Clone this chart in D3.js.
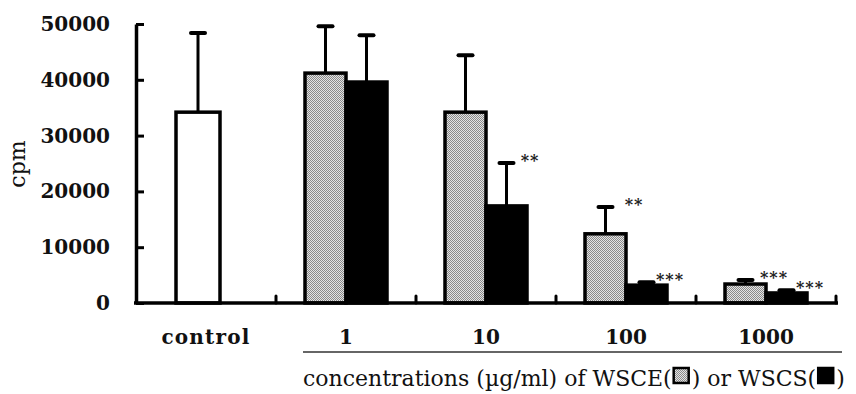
<!DOCTYPE html>
<html>
<head>
<meta charset="utf-8">
<script src="https://cdn.jsdelivr.net/npm/d3@7"></script>
<style>
  body { margin: 0; background: #fff; }
  svg text { font-family: "DejaVu Serif", "Liberation Serif", serif; }
</style>
</head>
<body>
<svg id="chart" width="856" height="394"></svg>
<script>
// values (cpm)
var categories = ["control", "1", "10", "100", "1000"];
var controlMean = [34200];
var controlErr = [48400];
var wsceMean = [null, 41200, 34200, 12400, 3400];
var wsceErr = [null, 49600, 44400, 17200, 4100];
var wscsMean = [null, 39600, 17400, 3200, 1800];
var wscsErr = [null, 48000, 25100, 3700, 2300];
var wsceSig = ["", "", "", "**", "***"];
var wscsSig = ["", "", "**", "***", "***"];
var yTicks = [0, 10000, 20000, 30000, 40000, 50000];

var svg = d3.select("#chart");

// stippled grey for WSCE bars
var defs = svg.append("defs");
var pat = defs.append("pattern")
  .attr("id", "dots")
  .attr("width", 2).attr("height", 2)
  .attr("patternUnits", "userSpaceOnUse");
pat.append("rect").attr("width", 2).attr("height", 2).attr("fill", "#e4e4e4");
pat.append("rect").attr("width", 1).attr("height", 1).attr("fill", "#8a8a8a");
pat.append("rect").attr("x", 1).attr("y", 1).attr("width", 1).attr("height", 1).attr("fill", "#8a8a8a");

var x = d3.scaleBand().domain(categories).range([136, 836]);
var y = d3.scaleLinear().domain([0, 50000]).range([303, 24]);
var barW = 41;

// y axis
var yAxis = d3.axisLeft(y)
  .tickValues(yTicks)
  .tickSizeInner(-8)
  .tickSizeOuter(0)
  .tickPadding(26)
  .tickFormat(d3.format("d"));

var gy = svg.append("g").attr("transform", "translate(136,0)").call(yAxis);
gy.select(".domain").attr("stroke-width", 3.5);
gy.selectAll(".tick line").attr("stroke-width", 3);
gy.selectAll(".tick text")
  .attr("font-size", 20)
  .attr("font-weight", "bold")
  .attr("font-family", "DejaVu Serif, serif")
  .attr("fill", "#111");

svg.append("text")
  .attr("transform", "translate(25,164) rotate(-90)")
  .attr("text-anchor", "middle")
  .attr("font-size", 22)
  .attr("fill", "#111")
  .text("cpm");

// bars
function drawBar(x0, w, mean, err, fill) {
  svg.append("line")
    .attr("x1", x0 + w / 2).attr("x2", x0 + w / 2)
    .attr("y1", y(mean)).attr("y2", y(err))
    .attr("stroke", "#000").attr("stroke-width", 3);
  svg.append("line")
    .attr("x1", x0 + w / 2 - 7).attr("x2", x0 + w / 2 + 7)
    .attr("y1", y(err)).attr("y2", y(err))
    .attr("stroke", "#000").attr("stroke-width", 4)
    .attr("stroke-linecap", "round");
  svg.append("rect")
    .attr("x", x0).attr("y", y(mean))
    .attr("width", w).attr("height", y(0) - y(mean))
    .attr("fill", fill)
    .attr("stroke", "#000").attr("stroke-width", 3.5);
}

function sig(x0, err, label) {
  if (!label) return;
  svg.append("text")
    .attr("x", x0).attr("y", y(err) + 3)
    .attr("text-anchor", "middle")
    .attr("font-size", 16)
    .attr("font-weight", "bold")
    .attr("letter-spacing", 1)
    .attr("fill", "#222")
    .text(label);
}

var cx0 = x("control") + x.bandwidth() / 2 - 8;
drawBar(cx0 - 22, 44, controlMean[0], controlErr[0], "#fff");

categories.forEach(function (c, i) {
  if (i == 0) return;
  var mid = x(c) + x.bandwidth() / 2;
  drawBar(mid - barW, barW, wsceMean[i], wsceErr[i], "url(#dots)");
  drawBar(mid, barW, wscsMean[i], wscsErr[i], "#000");
  sig(mid + 8, wsceErr[i], wsceSig[i]);
  sig(mid + barW + 3, wscsErr[i], wscsSig[i]);
});

// x axis baseline with small ticks at category boundaries
svg.append("line")
  .attr("x1", 134).attr("x2", 838)
  .attr("y1", y(0)).attr("y2", y(0))
  .attr("stroke", "#000").attr("stroke-width", 3.5);
categories.forEach(function (c) {
  var xe = x(c) + x.bandwidth();
  svg.append("line")
    .attr("x1", xe).attr("x2", xe)
    .attr("y1", y(0)).attr("y2", y(0) - 7)
    .attr("stroke", "#000").attr("stroke-width", 3)
    .attr("stroke-linecap", "round");
});

// category labels
categories.forEach(function (c, i) {
  var mid = x(c) + x.bandwidth() / 2;
  if (i == 0) mid = cx0 + 8;
  svg.append("text")
    .attr("x", mid).attr("y", 344)
    .attr("text-anchor", "middle")
    .attr("font-size", 20)
    .attr("font-weight", "bold")
    .attr("letter-spacing", i == 0 ? 1.2 : 0)
    .attr("fill", "#111")
    .text(c);
});

svg.append("line")
  .attr("x1", 303).attr("x2", 842)
  .attr("y1", 352).attr("y2", 352)
  .attr("stroke", "#333").attr("stroke-width", 1.5);

// caption with legend boxes
var cap = svg.append("g");
var cxPos = 303;
var parts = ["concentrations (\u00b5g/ml) of WSCE(", "box:url(#dots)", ") or WSCS(", "box:#000", ")"];
parts.forEach(function (p) {
  if (p.indexOf("box:") == 0) {
    cap.append("rect")
      .attr("x", cxPos + 2).attr("y", 368)
      .attr("width", 15).attr("height", 15)
      .attr("fill", p.slice(4))
      .attr("stroke", "#000").attr("stroke-width", 2.5);
    cxPos += 20;
  } else {
    var t = cap.append("text")
      .attr("x", cxPos).attr("y", 386)
      .attr("font-family", "Liberation Serif, serif")
      .attr("font-size", 22)
      .attr("fill", "#111")
      .text(p);
    cxPos += t.node().getComputedTextLength();
  }
});
</script>
</body>
</html>
